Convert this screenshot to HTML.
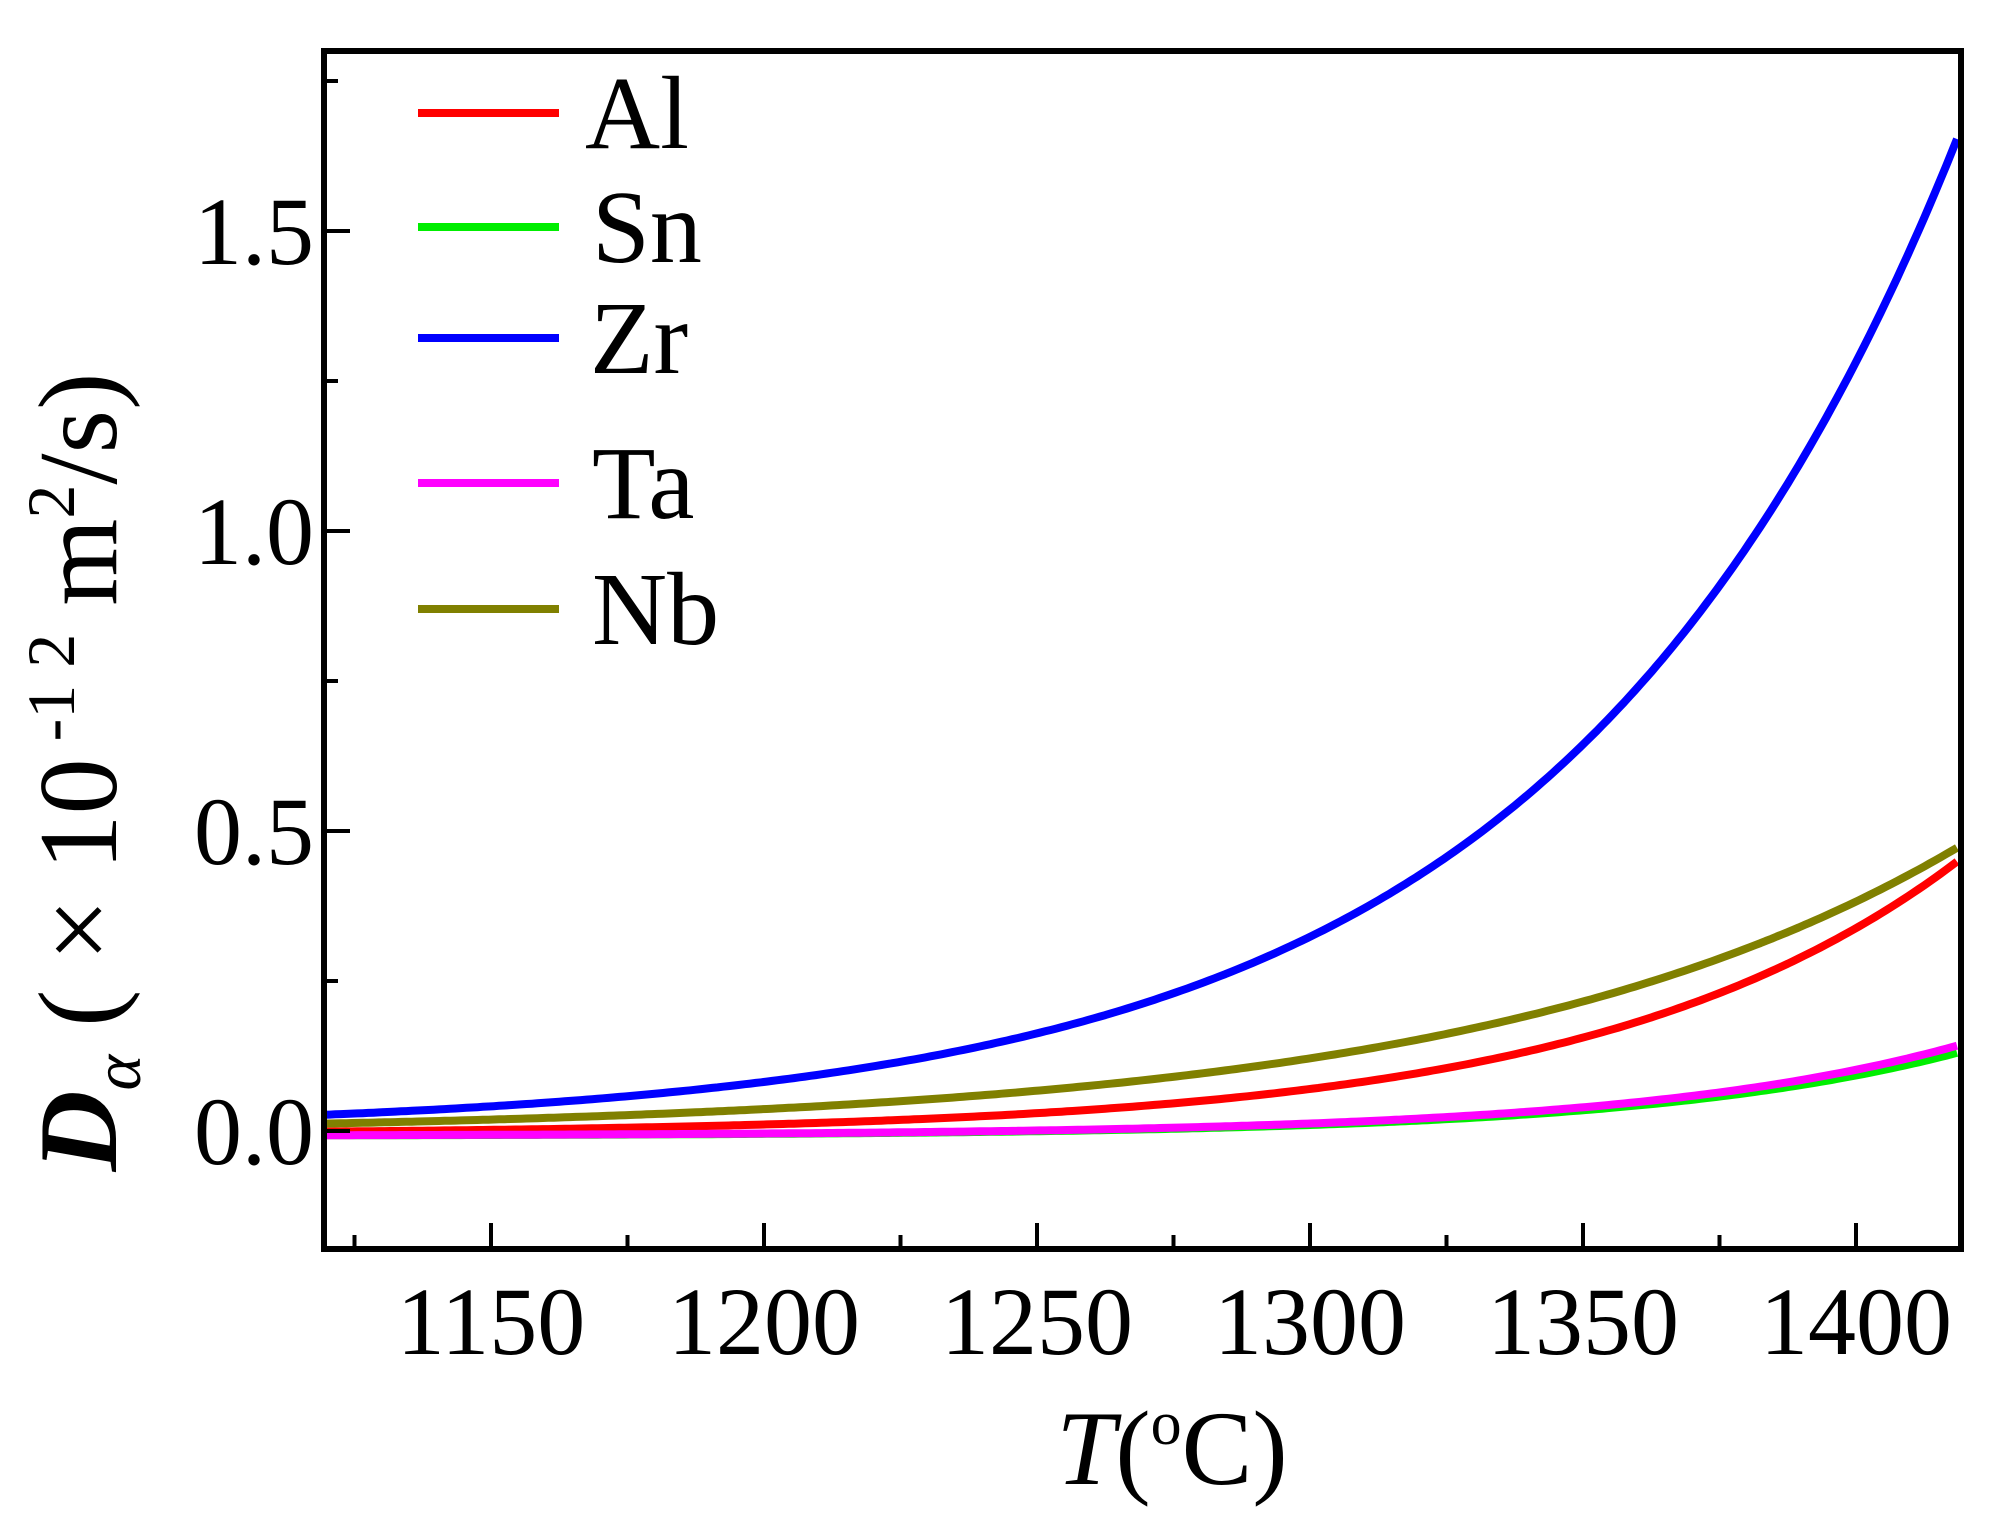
<!DOCTYPE html>
<html><head><meta charset="utf-8"><style>
html,body{margin:0;padding:0;background:#fff}
svg{display:block;font-family:"Liberation Serif",serif}
</style></head><body>
<svg id="s" width="2005" height="1532" viewBox="0 0 2005 1532" xmlns="http://www.w3.org/2000/svg">
<g id="curves" fill="none" stroke-width="8" stroke-linejoin="round"></g>
<rect x="324" y="51" width="1637" height="1198" fill="none" stroke="#000" stroke-width="6"/>
<g id="ticks" stroke="#000" stroke-width="4"></g>
<g font-size="96" text-anchor="end">
<text x="314" y="1164">0.0</text>
<text x="314" y="864">0.5</text>
<text x="314" y="564">1.0</text>
<text x="314" y="264">1.5</text>
</g>
<g font-size="96" text-anchor="middle">
<text x="491" y="1354">1150</text>
<text x="764" y="1354">1200</text>
<text x="1037" y="1354">1250</text>
<text x="1310" y="1354">1300</text>
<text x="1583" y="1354">1350</text>
<text x="1856" y="1354">1400</text>
</g>
<text x="1172" y="1484" font-size="106" text-anchor="middle"><tspan font-style="italic">T</tspan>(<tspan font-size="62" dy="-40">o</tspan><tspan dy="40">C)</tspan></text>
<text transform="translate(116,772) rotate(-90)" font-size="112" text-anchor="middle" xml:space="preserve"><tspan font-style="italic" font-weight="bold">D</tspan><tspan font-size="68" dy="24" font-style="italic">α</tspan><tspan dy="-24"> ( × 10</tspan><tspan font-size="68" dy="-42"> -1 2</tspan><tspan dy="42"> m</tspan><tspan font-size="68" dy="-42">2</tspan><tspan dy="42">/s)</tspan></text>
<g stroke-width="8">
<line x1="418" y1="113" x2="559" y2="113" stroke="#ff0000"/>
<line x1="418" y1="227" x2="559" y2="227" stroke="#00ee00"/>
<line x1="418" y1="338" x2="559" y2="338" stroke="#0000ff"/>
<line x1="418" y1="483" x2="559" y2="483" stroke="#ff00ff"/>
<line x1="418" y1="609" x2="559" y2="609" stroke="#808000"/>
</g>
<g font-size="104">
<text x="585" y="148">Al</text>
<text x="592" y="262">Sn</text>
<text x="590" y="373">Zr</text>
<text x="592" y="518">Ta</text>
<text x="592" y="644">Nb</text>
</g>
</svg>
<script>
var NS="http://www.w3.org/2000/svg";
var R=1961,T1=1150+(R-491)*50/273;
function X(t){return 491+(t-1150)*273/50;}
function Y(v){return 1131-v*600;}
var series=[["#00ee00",0.14,0.0172,-0.008],["#ff0000",0.46,0.0151,-0.006],["#808000",0.48,0.01128,-0.004],["#ff00ff",0.152,0.0168,-0.008],["#0000ff",1.67,0.01376,0]];
var g=document.getElementById("curves");
series.forEach(function(s){var d="";for(var t=1119.5;t<=T1+0.01;t+=1){var v=s[1]*Math.exp(s[2]*(t-T1))+s[3];d+=(d?"L":"M")+X(t).toFixed(1)+","+Y(v).toFixed(1);}
var p=document.createElementNS(NS,"path");p.setAttribute("d",d);p.setAttribute("stroke",s[0]);g.appendChild(p);});
var tk=document.getElementById("ticks");
function ln(a,b,c,d){var l=document.createElementNS(NS,"line");l.setAttribute("x1",a);l.setAttribute("y1",b);l.setAttribute("x2",c);l.setAttribute("y2",d);tk.appendChild(l);}
for(var t=1125;t<=1420;t+=25){var major=(t%50==0);ln(X(t),1249,X(t),1249-(major?26:14));}
for(var v=-0.25;v<=1.76;v+=0.25){var major=Math.abs(v*2-Math.round(v*2))<1e-6;var y=Y(v);if(y>51&&y<1249)ln(324,y,324+(major?26:14),y);}
</script>
</body></html>
